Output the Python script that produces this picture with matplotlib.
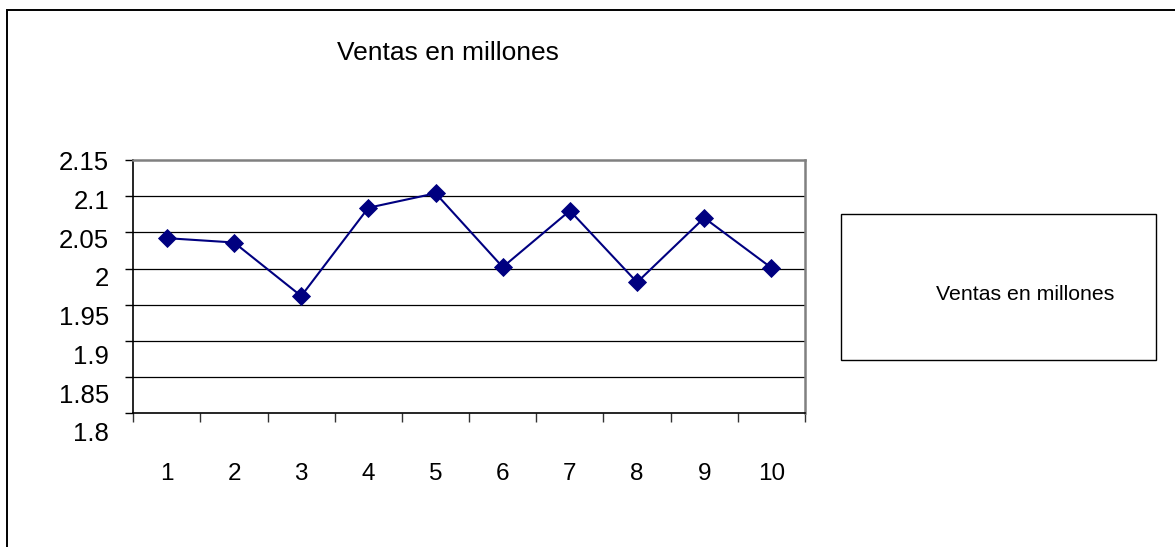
import matplotlib
matplotlib.use("Agg")
import matplotlib.pyplot as plt
from matplotlib.patches import Rectangle
from matplotlib.ticker import FixedLocator

plt.rcParams["font.family"] = ["Liberation Sans", "DejaVu Sans"]

# Sales per period (millions)
periods = [1, 2, 3, 4, 5, 6, 7, 8, 9, 10]
ventas = [2.042, 2.036, 1.962, 2.084, 2.104, 2.002, 2.080, 1.981, 2.070, 2.001]
y_ticks = [2.15, 2.1, 2.05, 2.0, 1.95, 1.9, 1.85, 1.8]
y_labels = ["2.15", "2.1", "2.05", "2", "1.95", "1.9", "1.85", "1.8"]
title = "Ventas en millones"
series_name = "Ventas en millones"

W, H, DPI = 1175, 547, 100
fig = plt.figure(figsize=(W / DPI, H / DPI), dpi=DPI)
fig.patch.set_facecolor("white")

# chart frame (runs off the right and bottom edges)
fig.add_artist(Rectangle((6.5 / W, -0.05), 1.2, 1 - 9.5 / H + 0.05,
                         transform=fig.transFigure, fill=False,
                         edgecolor="black", linewidth=1.4))

ax = fig.add_axes([133.3 / W, (H - 413.3) / H, (805 - 133.3) / W, 253.3 / H])
ax.set_xlim(0.5, 10.5)
ax.set_ylim(1.8, 2.15)

# horizontal gridlines
for v in y_ticks[1:-1]:
    ax.axhline(v, color="black", linewidth=0.9, zorder=1)

ax.plot(periods, ventas, color="#000080", linewidth=1.5, marker="D",
        markersize=8.8, markerfacecolor="#000080", markeredgecolor="#000080",
        markeredgewidth=0.6, zorder=3, clip_on=False)

# spines
for s in ("left", "bottom"):
    ax.spines[s].set_color("black")
    ax.spines[s].set_linewidth(1.2)
for s in ("top", "right"):
    ax.spines[s].set_color("#808080")
    ax.spines[s].set_linewidth(1.8)

# y ticks: marks on the axis, labels spread slightly wider than the grid
ax.set_yticks(y_ticks)
ax.tick_params(axis="y", direction="out", length=5.8, width=1.0,
               color="black", labelleft=False)
px = 72.0 / DPI
for i, (v, lab) in enumerate(zip(y_ticks, y_labels)):
    ax.annotate(lab, xy=(0, v), xycoords=("axes fraction", "data"),
                xytext=(-24 * px, -(3.0 + 2.6 * i) * px),
                textcoords="offset points", ha="right", va="center",
                fontsize=18.5, color="black", annotation_clip=False)

# x ticks: labels at category centres, marks at category boundaries
ax.set_xticks(periods)
ax.set_xticklabels([str(p) for p in periods])
ax.tick_params(axis="x", which="major", length=0, pad=50 * px,
               labelsize=17.5, labelcolor="black")
ax.xaxis.set_minor_locator(FixedLocator([p - 0.5 for p in periods] + [10.5]))
ax.tick_params(axis="x", which="minor", direction="out", length=9 * px,
               width=1.0, color="#333333")

fig.text(448 / W, 1 - 53 / H, title, ha="center", va="center",
         fontsize=19, color="black")

# legend box
fig.add_artist(Rectangle((841 / W, 1 - 360 / H), (1156 - 841) / W,
                         (360 - 214) / H, transform=fig.transFigure,
                         fill=False, edgecolor="black", linewidth=1.0))
fig.text(936 / W, 1 - 294 / H, series_name, ha="left", va="center",
         fontsize=15.3, color="black")

fig.savefig("out.png", dpi=DPI, facecolor="white")
